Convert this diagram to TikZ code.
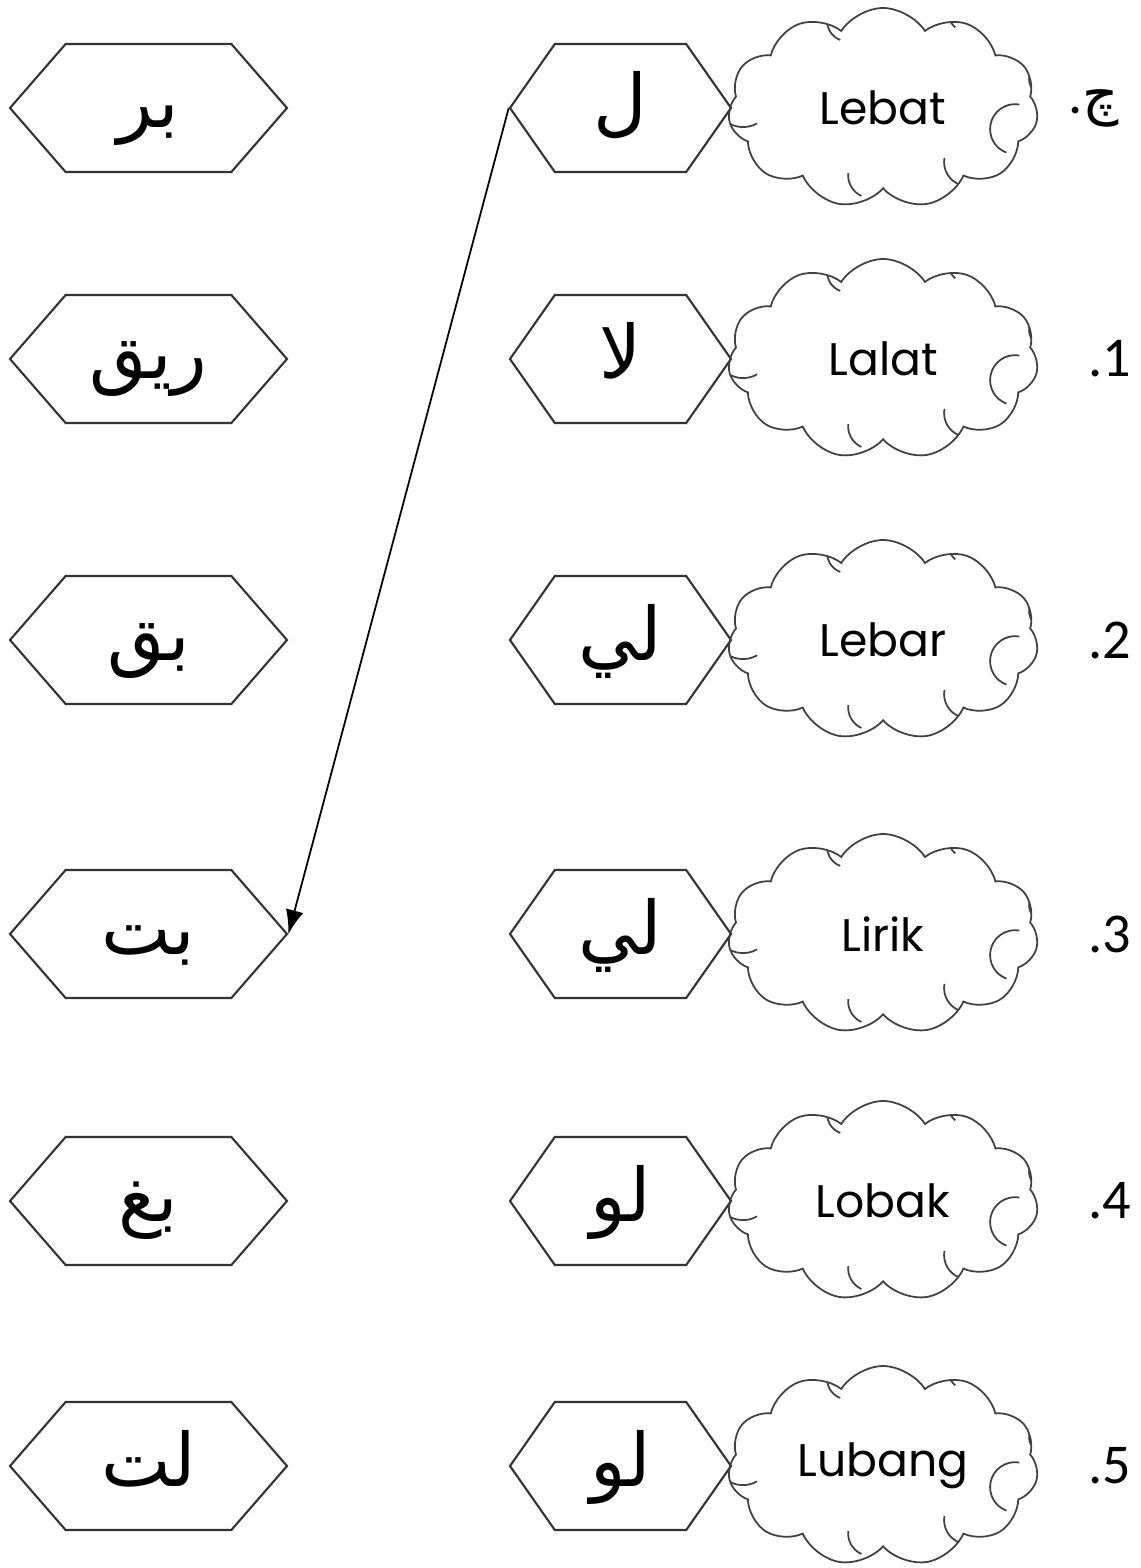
\documentclass[tikz,border=0pt]{standalone}
\usepackage{fontspec}
\setmainfont{Poppins}
\newfontfamily\arabicfont[Script=Arabic]{DejaVu Sans}
\newfontfamily\numfont{Carlito}
\TeXXeTstate=1
\usetikzlibrary{arrows.meta,positioning,calc,shapes.symbols}

\begin{document}
\begin{tikzpicture}[
    node distance=0.5cm,
    hexbox/.style={
        shape=signal,
        signal to=east and west,
        draw=black!80,
        line width=0.6pt,
        minimum height=1.28cm,
        inner sep=0pt,
        text height=0.6cm,
        text depth=0.2cm,
        font=\arabicfont\fontsize{21}{24}\selectfont
    },
    hexwide/.style={
        hexbox,
        minimum width=2.77cm,
        signal pointer angle=98
    },
    hexnarrow/.style={
        hexbox,
        minimum width=2.21cm,
        signal pointer angle=110
    },
    cloudbox/.style={
        cloud,
        cloud puffs=11,
        cloud puff arc=115,
        aspect=1.55,
        draw=black!75,
        line width=0.5pt,
        minimum width=3.1cm,
        minimum height=2.0cm,
        inner sep=0pt,
        font=\fontsize{13}{15}\selectfont,
        % lengkung kecil di dalam awan
        path picture={
            \coordinate (pc) at (path picture bounding box.center);
            \draw[black!75, line width=0.5pt]
                ($(pc)+(-1.40,0.08)$) ++(200:0.28) arc[start angle=200, end angle=300, radius=0.28]
                ($(pc)+(-0.36,0.86)$) ++(150:0.2)  arc[start angle=150, end angle=250, radius=0.2]
                ($(pc)+(0.85,0.95)$)  ++(170:0.2)  arc[start angle=170, end angle=230, radius=0.2]
                ($(pc)+(1.62,0.28)$)  ++(160:0.16) arc[start angle=160, end angle=250, radius=0.16]
                ($(pc)+(1.32,-0.22)$) ++(80:0.25)  arc[start angle=80, end angle=250, radius=0.25]
                ($(pc)+(0.85,-0.55)$) ++(170:0.24) arc[start angle=170, end angle=250, radius=0.24]
                ($(pc)+(-0.12,-0.68)$) ++(175:0.23) arc[start angle=175, end angle=245, radius=0.23];
        }
    },
    numlabel/.style={
        font=\numfont\fontsize{16}{18}\selectfont,
        inner sep=0pt
    },
    arrow/.style={-{Latex[length=2.4mm,width=1.8mm]}, line width=0.5pt}
]

\useasboundingbox (0,0) rectangle (11.41,-15.68);

% =========================================================
% LAJUR KIRI: SUKU KATA AKHIR
% =========================================================

\node[hexwide] (kiri1) at (1.485,-1.08)  {\beginR بر\endR};
\node[hexwide] (kiri2) at (1.485,-3.59)  {\beginR ريق\endR};
\node[hexwide] (kiri3) at (1.485,-6.40)  {\beginR بق\endR};
\node[hexwide] (kiri4) at (1.485,-9.34)  {\beginR بت\endR};
\node[hexwide] (kiri5) at (1.485,-12.01) {\beginR بغ\endR};
\node[hexwide] (kiri6) at (1.485,-14.66) {\beginR لت\endR};

% =========================================================
% LAJUR KANAN: SUKU KATA AWAL
% =========================================================

\node[hexnarrow] (kanan0) at (6.205,-1.08)  {\beginR ل\endR};
\node[hexnarrow] (kanan1) at (6.205,-3.59)  {\beginR لا\endR};
\node[hexnarrow] (kanan2) at (6.205,-6.40)  {\beginR لي\endR};
\node[hexnarrow] (kanan3) at (6.205,-9.34)  {\beginR لي\endR};
\node[hexnarrow] (kanan4) at (6.205,-12.01) {\beginR لو\endR};
\node[hexnarrow] (kanan5) at (6.205,-14.66) {\beginR لو\endR};

% =========================================================
% AWAN: PERKATAAN
% =========================================================

\node[cloudbox, right=-1pt of kanan0] (awan0) {Lebat};
\node[cloudbox, right=-1pt of kanan1] (awan1) {Lalat};
\node[cloudbox, right=-1pt of kanan2] (awan2) {Lebar};
\node[cloudbox, right=-1pt of kanan3] (awan3) {Lirik};
\node[cloudbox, right=-1pt of kanan4] (awan4) {Lobak};
\node[cloudbox, right=-1pt of kanan5] (awan5) {Lubang};

% =========================================================
% NOMBOR SOALAN
% =========================================================

\node[numlabel, right=0.3cm of awan0] (no0)
{.{\arabicfont\fontsize{16}{18}\selectfont چ}};
\node[numlabel, right=of awan1] (no1) {.1};
\node[numlabel, right=of awan2] (no2) {.2};
\node[numlabel, right=of awan3] (no3) {.3};
\node[numlabel, right=of awan4] (no4) {.4};
\node[numlabel, right=of awan5] (no5) {.5};

% =========================================================
% ANAK PANAH (CONTOH)
% =========================================================

\draw[arrow] (kanan0.west) -- (kiri4.east);

\end{tikzpicture}
\end{document}
